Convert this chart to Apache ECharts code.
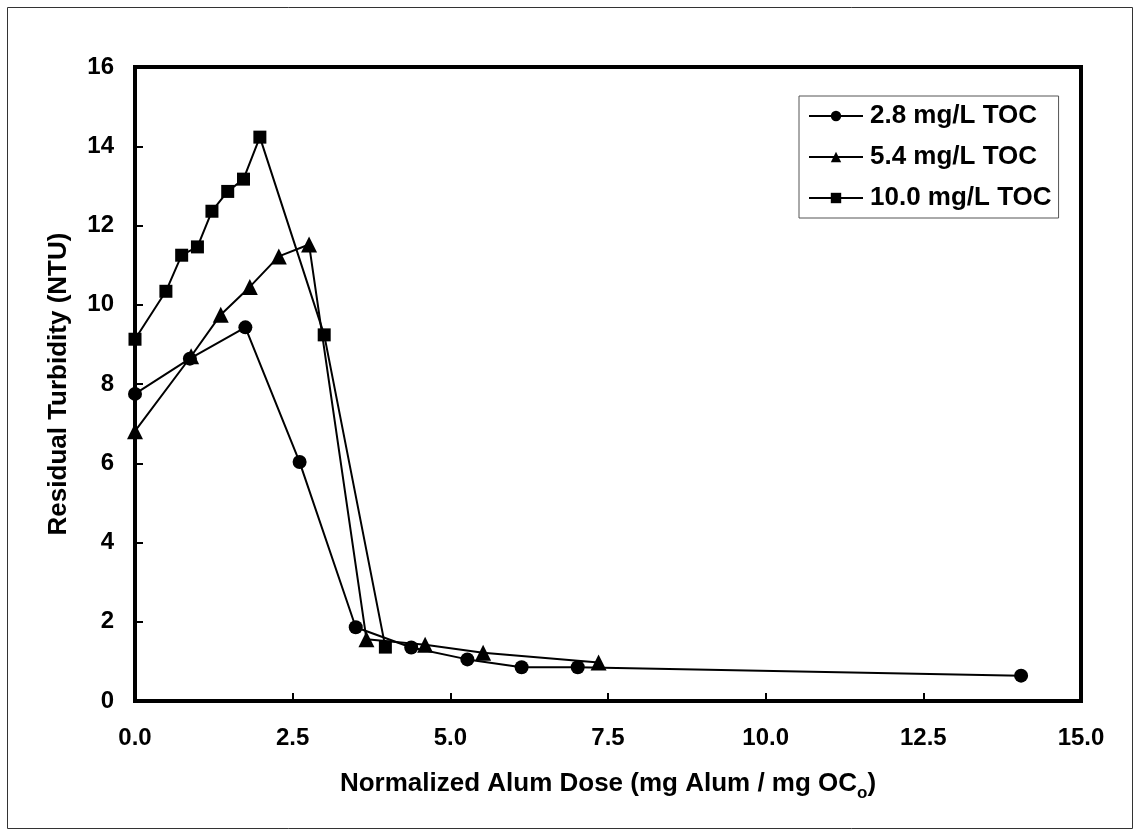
<!DOCTYPE html>
<html>
<head>
<meta charset="utf-8">
<script src="https://cdn.jsdelivr.net/npm/echarts@6/dist/echarts.min.js"></script>
<style>
  html, body { margin: 0; padding: 0; background: #fff; }
  #chart { width: 1138px; height: 835px; }
</style>
</head>
<body>
<div id="chart"></div>
<script>
const seriesNames = ['2.8 mg/L TOC', '5.4 mg/L TOC', '10.0 mg/L TOC'];
const xTicks = ['0.0', '2.5', '5.0', '7.5', '10.0', '12.5', '15.0'];
const yTicks = [0, 2, 4, 6, 8, 10, 12, 14, 16];

const toc28X = [0, 0.87, 1.75, 2.61, 3.5, 4.38, 5.27, 6.13, 7.02, 14.05];
const toc28Y = [7.75, 8.64, 9.43, 6.03, 1.86, 1.35, 1.05, 0.85, 0.85, 0.64];

const toc54X = [0, 0.89, 1.36, 1.82, 2.28, 2.76, 3.67, 4.6, 5.52, 7.35];
const toc54Y = [6.81, 8.7, 9.75, 10.45, 11.22, 11.52, 1.56, 1.42, 1.22, 0.97];

const toc100X = [0, 0.49, 0.74, 0.99, 1.22, 1.47, 1.72, 1.98, 3.0, 3.97];
const toc100Y = [9.13, 10.34, 11.25, 11.46, 12.36, 12.86, 13.17, 14.23, 9.24, 1.36];

const pairs = (xs, ys) => xs.map((x, i) => [x, ys[i]]);

const font = 'Liberation Sans, Arial, sans-serif';
const myChart = echarts.init(document.getElementById('chart'));

function lineSeries(name, symbol, size, data) {
  return {
    name: name,
    type: 'line',
    data: data,
    symbol: symbol,
    symbolSize: size,
    showAllSymbol: true,
    lineStyle: { color: '#000', width: 2 },
    itemStyle: { color: '#000' },
    animation: false,
    z: 3
  };
}

const option = {
  backgroundColor: '#fff',
  animation: false,
  grid: {
    left: 135,
    top: 67,
    right: 57,
    bottom: 134,
    show: true,
    borderColor: '#000',
    borderWidth: 4
  },
  legend: {
    orient: 'vertical',
    left: 799,
    top: 96,
    padding: [7, 7, 7, 9],
    itemGap: 15,
    itemWidth: 54,
    itemHeight: 13,
    borderColor: '#555',
    borderWidth: 1,
    backgroundColor: '#fff',
    data: seriesNames,
    textStyle: { fontFamily: font, fontSize: 26, fontWeight: 'bold', color: '#000', padding: [0, 0, 0, 2] }
  },
  xAxis: {
    type: 'value',
    min: 0,
    max: 15,
    interval: 2.5,
    name: '{a|Normalized Alum Dose (mg Alum / mg OC}{s|o}{a|)}',
    nameLocation: 'middle',
    nameGap: 70,
    nameTextStyle: {
      rich: {
        a: { fontFamily: font, fontSize: 26, fontWeight: 'bold', color: '#000', verticalAlign: 'bottom' },
        s: { fontFamily: font, fontSize: 17, fontWeight: 'bold', color: '#000', verticalAlign: 'bottom', padding: [0, 0, -5, 0] }
      }
    },
    axisLine: { lineStyle: { color: '#000', width: 4 } },
    axisTick: { inside: true, length: 8, lineStyle: { color: '#000', width: 2 } },
    axisLabel: {
      margin: 25,
      fontFamily: font, fontSize: 24, fontWeight: 'bold', color: '#000',
      formatter: v => xTicks[Math.round(v / 2.5)]
    },
    splitLine: { show: false }
  },
  yAxis: {
    type: 'value',
    min: 0,
    max: 16,
    interval: 2,
    name: 'Residual Turbidity (NTU)',
    nameLocation: 'middle',
    nameGap: 63,
    nameTextStyle: { fontFamily: font, fontSize: 26, fontWeight: 'bold', color: '#000' },
    axisLine: { show: true, lineStyle: { color: '#000', width: 4 } },
    axisTick: { show: true, inside: true, length: 8, lineStyle: { color: '#000', width: 2 } },
    axisLabel: {
      margin: 21,
      fontFamily: font, fontSize: 24, fontWeight: 'bold', color: '#000',
      formatter: v => (yTicks.indexOf(v) >= 0 ? String(v) : '')
    },
    splitLine: { show: false }
  },
  graphic: [{
    type: 'rect',
    shape: { x: 7.5, y: 7.5, width: 1125, height: 821 },
    style: { fill: 'none', stroke: '#333', lineWidth: 1 },
    silent: true
  }],
  series: [
    lineSeries(seriesNames[0], 'circle', 14, pairs(toc28X, toc28Y)),
    lineSeries(seriesNames[1], 'triangle', 16, pairs(toc54X, toc54Y)),
    lineSeries(seriesNames[2], 'rect', 13, pairs(toc100X, toc100Y))
  ]
};
myChart.setOption(option);
</script>
</body>
</html>
